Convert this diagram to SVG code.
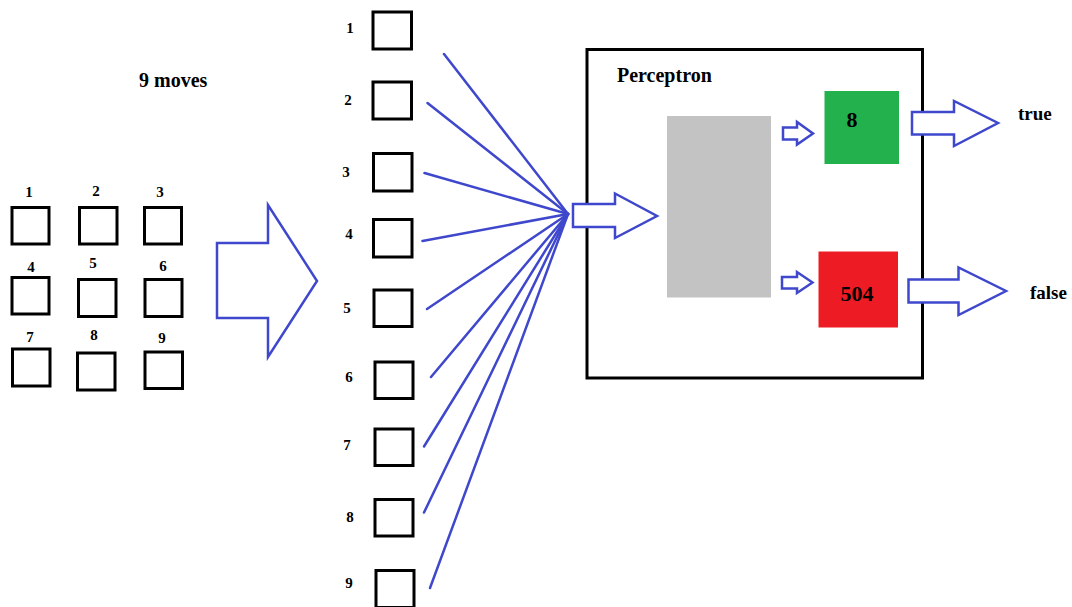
<svg xmlns="http://www.w3.org/2000/svg" width="1072" height="607" viewBox="0 0 1072 607">
<style>
.bg{fill:#ffffff}
.cell{fill:#ffffff;stroke:#000000;stroke-width:3}
.num{font-family:"Liberation Serif","DejaVu Serif",serif;font-weight:bold;font-size:15px;fill:#000000;text-anchor:middle}
.lbl{font-family:"Liberation Serif","DejaVu Serif",serif;font-weight:bold;font-size:19px;fill:#000000}
.lbl2{font-family:"Liberation Serif","DejaVu Serif",serif;font-weight:bold;font-size:20px;fill:#000000}
.big{font-family:"Liberation Serif","DejaVu Serif",serif;font-weight:bold;font-size:22px;fill:#000000;text-anchor:middle}
.arrow{fill:#ffffff;stroke:#3F48CC;stroke-width:2.5;stroke-linejoin:miter}
.link{stroke:#3F48CC;stroke-width:2.5;fill:none;stroke-linecap:round}
</style>
<rect class="bg" x="0" y="0" width="1072" height="607"/>

<g id="title-moves"><text class="lbl2" x="139" y="87">9 moves</text></g>

<g id="grid">
  <g id="g1"><text class="num" x="29" y="197">1</text><rect class="cell" x="12" y="207.5" width="37" height="36.5"/></g>
  <g id="g2"><text class="num" x="96" y="196">2</text><rect class="cell" x="79.5" y="207.5" width="37.5" height="36.5"/></g>
  <g id="g3"><text class="num" x="160" y="197">3</text><rect class="cell" x="144.5" y="207.5" width="37" height="36.5"/></g>
  <g id="g4"><text class="num" x="31" y="272">4</text><rect class="cell" x="12" y="277.5" width="37" height="36.5"/></g>
  <g id="g5"><text class="num" x="93" y="268">5</text><rect class="cell" x="78.5" y="279.5" width="37.5" height="37"/></g>
  <g id="g6"><text class="num" x="163" y="271">6</text><rect class="cell" x="145" y="279.5" width="37" height="37"/></g>
  <g id="g7"><text class="num" x="30" y="342">7</text><rect class="cell" x="12.5" y="349" width="37.5" height="37"/></g>
  <g id="g8"><text class="num" x="94" y="340">8</text><rect class="cell" x="77.5" y="353" width="37.5" height="37"/></g>
  <g id="g9"><text class="num" x="162" y="343">9</text><rect class="cell" x="145" y="352" width="37.5" height="36.5"/></g>
</g>

<g id="big-arrow"><polygon class="arrow" points="217,243 268,243 268,205 317,281 268,357 268,318 217,318"/></g>

<g id="inputs">
  <g id="in1"><text class="num" x="350" y="33">1</text><rect class="cell" x="373" y="12" width="38.5" height="37"/></g>
  <g id="in2"><text class="num" x="348" y="105">2</text><rect class="cell" x="373" y="82" width="38.5" height="37"/></g>
  <g id="in3"><text class="num" x="346" y="177">3</text><rect class="cell" x="373.5" y="153.5" width="38.5" height="37.5"/></g>
  <g id="in4"><text class="num" x="349" y="239">4</text><rect class="cell" x="373.5" y="219.5" width="38.5" height="37.5"/></g>
  <g id="in5"><text class="num" x="347" y="313">5</text><rect class="cell" x="374" y="290" width="38" height="36.5"/></g>
  <g id="in6"><text class="num" x="349" y="382">6</text><rect class="cell" x="375" y="362" width="38" height="36.5"/></g>
  <g id="in7"><text class="num" x="347" y="450">7</text><rect class="cell" x="375" y="429" width="38" height="36.5"/></g>
  <g id="in8"><text class="num" x="350" y="522">8</text><rect class="cell" x="375" y="499.5" width="38" height="36.5"/></g>
  <g id="in9"><text class="num" x="349" y="588">9</text><rect class="cell" x="376" y="570.5" width="38" height="37"/></g>
</g>

<g id="connectors">
  <line class="link" x1="444" y1="54" x2="568" y2="214"/>
  <line class="link" x1="427.5" y1="103" x2="568" y2="214"/>
  <line class="link" x1="424.5" y1="173" x2="568" y2="214"/>
  <line class="link" x1="422.5" y1="241" x2="568" y2="214"/>
  <line class="link" x1="427" y1="309" x2="568" y2="214"/>
  <line class="link" x1="431" y1="377" x2="568" y2="214"/>
  <line class="link" x1="424" y1="446.5" x2="568" y2="214"/>
  <line class="link" x1="424" y1="512.5" x2="568" y2="214"/>
  <line class="link" x1="430" y1="588" x2="568" y2="214"/>
</g>

<g id="perceptron">
  <rect x="587" y="49.5" width="335.5" height="328.5" fill="#ffffff" stroke="#000000" stroke-width="3"/>
  <text class="lbl2" x="617" y="82">Perceptron</text>
  <rect id="hidden" x="667" y="116" width="104" height="181.5" fill="#C3C3C3"/>
</g>

<g id="input-arrow"><polygon class="arrow" points="573,204 615,204 615,193.5 657,216 615,238 615,227 573,227"/></g>

<g id="true-node">
  <polygon class="arrow" points="783,127.5 797,127.5 797,122 813,133.5 797,144.5 797,139.5 783,139.5"/>
  <rect x="824.5" y="91" width="74.5" height="73" fill="#22B14C"/>
  <text class="big" x="852" y="127">8</text>
</g>

<g id="false-node">
  <polygon class="arrow" points="782,277 797,277 797,272 812.5,282.5 797,293 797,288.5 782,288.5"/>
  <rect x="818.5" y="251.5" width="79.5" height="76" fill="#ED1C24"/>
  <text class="big" x="857" y="301">504</text>
</g>

<g id="out-true">
  <polygon class="arrow" points="912,112 954,112 954,101 998,123 954,146 954,134.5 912,134.5"/>
  <text class="lbl" x="1018" y="120">true</text>
</g>

<g id="out-false">
  <polygon class="arrow" points="908.5,279.5 958.5,279.5 958.5,267.5 1006,291 958.5,315 958.5,302.5 908.5,302.5"/>
  <text class="lbl" x="1030" y="298.5">false</text>
</g>
</svg>
